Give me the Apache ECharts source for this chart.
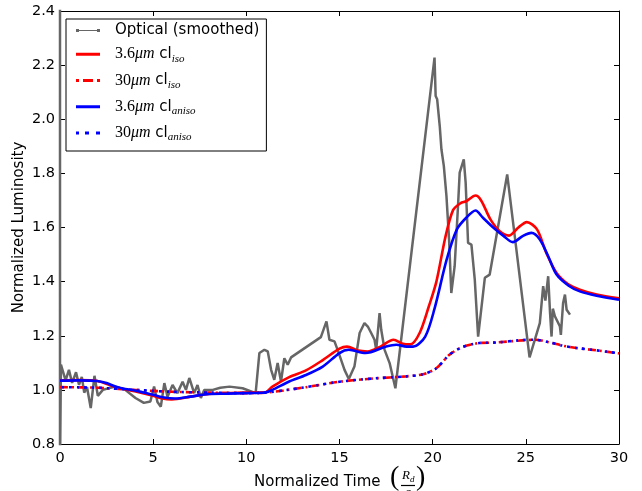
<!DOCTYPE html>
<html><head><meta charset="utf-8">
<script src="https://cdn.jsdelivr.net/npm/echarts@6/dist/echarts.min.js"></script>
<style>html,body{margin:0;padding:0;background:#fff}#c{width:642px;height:491px}</style>
</head><body><div id="c"></div>
<script>
// ---- data ----
const xTicks = [0, 5, 10, 15, 20, 25, 30];
const yTicks = [0.8, 1.0, 1.2, 1.4, 1.6, 1.8, 2.0, 2.2, 2.4];
const seriesNames = ['Optical (smoothed)', '3.6um iso', '30um iso', '3.6um aniso', '30um aniso'];

const optical = [
  [0, 2.5], [0, 0.7], [0.05, 1.093], [0.3, 1.035], [0.48, 1.074], [0.65, 1.026], [0.86, 1.065],
  [1.02, 1.019], [1.17, 1.048], [1.3, 0.99], [1.45, 1.01], [1.65, 0.933], [1.85, 1.052], [2.03, 0.978],
  [2.3, 1.0], [2.7, 1.008], [3.0, 1.012], [3.5, 1.0], [4.05, 0.97], [4.5, 0.952], [4.85, 0.957],
  [5.05, 1.012], [5.23, 0.955], [5.41, 0.938], [5.6, 1.025], [5.77, 0.975], [6.04, 1.018], [6.3, 0.988],
  [6.58, 1.03], [6.76, 1.0], [6.94, 1.044], [7.2, 0.988], [7.38, 1.018], [7.56, 0.97], [7.74, 1.0],
  [8.2, 1.0], [8.6, 1.008], [9.1, 1.012], [9.8, 1.006], [10.5, 0.988], [10.7, 1.136], [10.97, 1.148],
  [11.15, 1.142], [11.33, 1.074], [11.5, 1.037], [11.68, 1.099], [11.86, 1.031], [12.04, 1.117],
  [12.22, 1.093], [12.4, 1.12], [14.0, 1.195], [14.3, 1.253], [14.46, 1.185], [14.73, 1.179],
  [14.9, 1.148], [15.27, 1.074], [15.5, 1.04], [15.8, 1.086], [16.08, 1.21], [16.34, 1.247],
  [16.52, 1.234], [16.7, 1.21], [16.88, 1.185], [16.97, 1.148], [17.15, 1.284], [17.24, 1.222],
  [17.42, 1.148], [17.69, 1.099], [18.0, 1.006], [20.1, 2.228], [20.16, 2.086], [20.24, 2.074],
  [20.38, 1.975], [20.47, 1.889], [20.6, 1.827], [20.74, 1.716], [20.88, 1.556], [21.0, 1.358],
  [21.18, 1.457], [21.36, 1.679], [21.45, 1.803], [21.67, 1.852], [21.77, 1.766], [21.9, 1.543],
  [22.08, 1.537], [22.26, 1.407], [22.44, 1.197], [22.8, 1.414], [23.06, 1.426], [24.0, 1.796],
  [25.2, 1.12], [25.75, 1.247], [25.93, 1.383], [26.05, 1.33], [26.2, 1.42], [26.3, 1.284],
  [26.38, 1.197], [26.45, 1.3], [26.56, 1.272], [26.83, 1.234], [26.88, 1.203], [27.0, 1.321],
  [27.1, 1.352], [27.19, 1.296], [27.37, 1.278]
];

const iso36 = [
  [0, 1.035], [1, 1.036], [2, 1.033], [3, 1.01], [4, 0.995], [5, 0.978], [5.5, 0.968], [6, 0.965],
  [7, 0.975], [8, 0.985], [9, 0.988], [10, 0.99], [11, 0.99], [11.4, 1.012], [12.3, 1.047],
  [13.2, 1.072], [14.1, 1.11], [15, 1.152], [15.4, 1.16], [16, 1.145], [16.5, 1.142], [17.2, 1.16],
  [17.9, 1.185], [18.4, 1.17], [18.8, 1.168], [19.3, 1.21], [19.8, 1.31], [20.2, 1.4], [20.7, 1.57],
  [21.1, 1.665], [21.5, 1.69], [21.8, 1.697], [22.3, 1.718], [22.6, 1.7], [23.1, 1.63], [23.6, 1.586],
  [24.1, 1.57], [24.6, 1.6], [25.05, 1.62], [25.6, 1.593], [26.1, 1.506], [26.65, 1.432],
  [27.3, 1.389], [27.9, 1.37], [28.8, 1.352], [30, 1.338]
];

const aniso36 = [
  [0, 1.034], [1, 1.035], [2, 1.033], [2.5, 1.025], [3, 1.012], [3.5, 1.003], [4, 0.998], [4.5, 0.99],
  [5, 0.982], [5.5, 0.973], [6.2, 0.968], [7, 0.975], [8, 0.985], [9, 0.986], [10, 0.988], [11, 0.99],
  [11.4, 1.0], [12.3, 1.031], [13.2, 1.055], [14.1, 1.086], [15, 1.136], [15.5, 1.148], [16.4, 1.136],
  [17.5, 1.16], [18.05, 1.167], [18.6, 1.16], [18.95, 1.16], [19.6, 1.197], [20.1, 1.3], [20.75, 1.481],
  [21.3, 1.593], [21.8, 1.636], [22.3, 1.663], [22.7, 1.636], [23.25, 1.6], [23.8, 1.569], [24.3, 1.546],
  [24.85, 1.569], [25.3, 1.58], [25.75, 1.556], [26.2, 1.494], [26.65, 1.426], [27.3, 1.385],
  [27.9, 1.364], [28.8, 1.348], [30, 1.333]
];

const iso30 = [
  [0, 1.01], [2, 1.008], [4, 1.0], [6, 0.993], [8, 0.99], [10, 0.988], [11, 0.99], [12, 0.998],
  [13.2, 1.01], [15, 1.03], [16.8, 1.042], [18.6, 1.05], [19.5, 1.058], [20.2, 1.08], [20.9, 1.13],
  [21.6, 1.158], [22.5, 1.173], [23.4, 1.175], [24.8, 1.183], [25.5, 1.185], [26.3, 1.175],
  [27, 1.163], [27.7, 1.155], [28.8, 1.146], [30, 1.135]
];

const aniso30 = [
  [0, 1.01], [2, 1.008], [4, 1.0], [6, 0.993], [8, 0.99], [10, 0.988], [11, 0.99], [12, 0.998],
  [13.2, 1.01], [15, 1.03], [16.8, 1.042], [18.6, 1.05], [19.5, 1.058], [20.2, 1.08], [20.9, 1.13],
  [21.6, 1.158], [22.5, 1.173], [23.4, 1.175], [24.8, 1.184], [25.5, 1.185], [26.3, 1.175],
  [27, 1.163], [27.7, 1.155], [28.8, 1.146], [30, 1.135]
];

// ---- chart ----
const FONT = '"DejaVu Sans", sans-serif';
const chart = echarts.init(document.getElementById('c'), null, {renderer: 'canvas'});

const legendRich = {
  t: {fontFamily: FONT, fontSize: 15, lineHeight: 18, color: '#000'},
  n: {fontFamily: '"Liberation Serif", serif', fontSize: 16, lineHeight: 18, color: '#000'},
  u: {fontFamily: '"Liberation Serif", serif', fontStyle: 'italic', fontSize: 16, lineHeight: 18, color: '#000'},
  s: {fontFamily: '"Liberation Serif", serif', fontStyle: 'italic', fontSize: 11, lineHeight: 18, padding: [9, 0, 0, 0], color: '#000'}
};
const legendText = {};
legendText[seriesNames[0]] = '{t|Optical (smoothed)}';
legendText[seriesNames[1]] = '{n|3.6}{u|μm}{t| cl}{s|iso}';
legendText[seriesNames[2]] = '{n|30}{u|μm}{t| cl}{s|iso}';
legendText[seriesNames[3]] = '{n|3.6}{u|μm}{t| cl}{s|aniso}';
legendText[seriesNames[4]] = '{n|30}{u|μm}{t| cl}{s|aniso}';

const icons = [
  'path://M0,0H3V3H0ZM21,0H24V3H21ZM1.5,0.9H22.5V2.1H1.5Z',
  'path://M0,0H24V3H0Z',
  'path://M0,0H3V3H0ZM7,0H17V3H7ZM21,0H24V3H21Z',
  'path://M0,0H24V3H0Z',
  'path://M0,0H3V3H0ZM9,0H13V3H9ZM20,0H24V3H20Z'
];

const axisCommon = {
  type: 'value',
  axisLine: {show: true, onZero: false, lineStyle: {color: '#000', width: 1}},
  axisTick: {show: true, inside: true, length: 5, lineStyle: {color: '#000', width: 1}},
  splitLine: {show: false}
};

const option = {
  backgroundColor: '#fff',
  animation: false,
  grid: {left: 60, right: 23, top: 11, bottom: 47, show: false},
  xAxis: [
    Object.assign({}, axisCommon, {
      position: 'bottom', min: xTicks[0], max: xTicks[xTicks.length - 1], interval: 5,
      axisLabel: {show: true, margin: 7, fontFamily: FONT, fontSize: 14.5, color: '#000'}
    }),
    Object.assign({}, axisCommon, {
      position: 'top', min: xTicks[0], max: xTicks[xTicks.length - 1], interval: 5,
      axisLabel: {show: false}
    })
  ],
  yAxis: [
    Object.assign({}, axisCommon, {
      position: 'left', min: yTicks[0], max: yTicks[yTicks.length - 1], interval: 0.2,
      axisLabel: {show: true, margin: 5, fontFamily: FONT, fontSize: 14.5, color: '#000',
        formatter: v => v.toFixed(1)},
      name: 'Normalized Luminosity', nameLocation: 'middle', nameGap: 33, nameMoveOverlap: false,
      nameTextStyle: {fontFamily: FONT, fontSize: 15, color: '#000'}
    }),
    Object.assign({}, axisCommon, {
      position: 'right', min: yTicks[0], max: yTicks[yTicks.length - 1], interval: 0.2,
      axisLabel: {show: false}
    })
  ],
  legend: {
    orient: 'vertical', left: 66, top: 19,
    padding: [4, 7, 8, 10],
    itemWidth: 24, itemHeight: 3, itemGap: 6.25,
    backgroundColor: '#fff', borderColor: '#000', borderWidth: 1, borderRadius: 0,
    itemStyle: {borderWidth: 0},
    data: seriesNames.map((n, i) => ({name: n, icon: icons[i]})),
    formatter: name => legendText[name],
    textStyle: {fontFamily: FONT, fontSize: 15, color: '#000', padding: [0, 0, 0, 10], rich: legendRich},
    selectedMode: false, z: 10
  },
  graphic: [
    {type: 'text', x: 254, y: 482, style: {text: 'Normalized Time', font: '15px "DejaVu Sans"', fill: '#000',
      textAlign: 'left', textVerticalAlign: 'middle', align: 'left', verticalAlign: 'middle'}},
    {type: 'text', x: 390, y: 478, style: {text: '(', font: '28px "Liberation Serif"', fill: '#000',
      textAlign: 'left', textVerticalAlign: 'middle', align: 'left', verticalAlign: 'middle'}},
    {type: 'text', x: 402, y: 476, style: {text: 'R', font: 'italic 13px "Liberation Serif"', fill: '#000',
      textAlign: 'left', textVerticalAlign: 'middle', align: 'left', verticalAlign: 'middle'}},
    {type: 'text', x: 410, y: 480, style: {text: 'd', font: 'italic 9px "Liberation Serif"', fill: '#000',
      textAlign: 'left', textVerticalAlign: 'middle', align: 'left', verticalAlign: 'middle'}},
    {type: 'line', shape: {x1: 401, y1: 485.5, x2: 415, y2: 485.5}, style: {stroke: '#000', lineWidth: 1.2}},
    {type: 'text', x: 405, y: 493, style: {text: 'c', font: 'italic 13px "Liberation Serif"', fill: '#000',
      textAlign: 'left', textVerticalAlign: 'middle', align: 'left', verticalAlign: 'middle'}},
    {type: 'text', x: 416, y: 478, style: {text: ')', font: '28px "Liberation Serif"', fill: '#000',
      textAlign: 'left', textVerticalAlign: 'middle', align: 'left', verticalAlign: 'middle'}}
  ],
  series: [
    {name: seriesNames[0], type: 'line', data: optical, showSymbol: false, symbol: 'none',
      lineStyle: {color: '#666666', width: 2.5}, itemStyle: {color: '#666666'}, z: 2},
    {name: seriesNames[1], type: 'line', data: iso36, showSymbol: false, symbol: 'none', smooth: 0.3,
      lineStyle: {color: '#ff0000', width: 2.6}, itemStyle: {color: '#ff0000'}, z: 3},
    {name: seriesNames[2], type: 'line', data: iso30, showSymbol: false, symbol: 'none', smooth: 0.3,
      lineStyle: {color: '#ff0000', width: 2.6, type: [8, 4, 2, 4]}, itemStyle: {color: '#ff0000'}, z: 3},
    {name: seriesNames[3], type: 'line', data: aniso36, showSymbol: false, symbol: 'none', smooth: 0.3,
      lineStyle: {color: '#0000ff', width: 2.6}, itemStyle: {color: '#0000ff'}, z: 4},
    {name: seriesNames[4], type: 'line', data: aniso30, showSymbol: false, symbol: 'none', smooth: 0.3,
      lineStyle: {color: '#0000ff', width: 2.6, type: [3, 5, 2, 5], dashOffset: 6}, itemStyle: {color: '#0000ff'}, z: 4}
  ]
};
chart.setOption(option);
</script>
</body></html>
